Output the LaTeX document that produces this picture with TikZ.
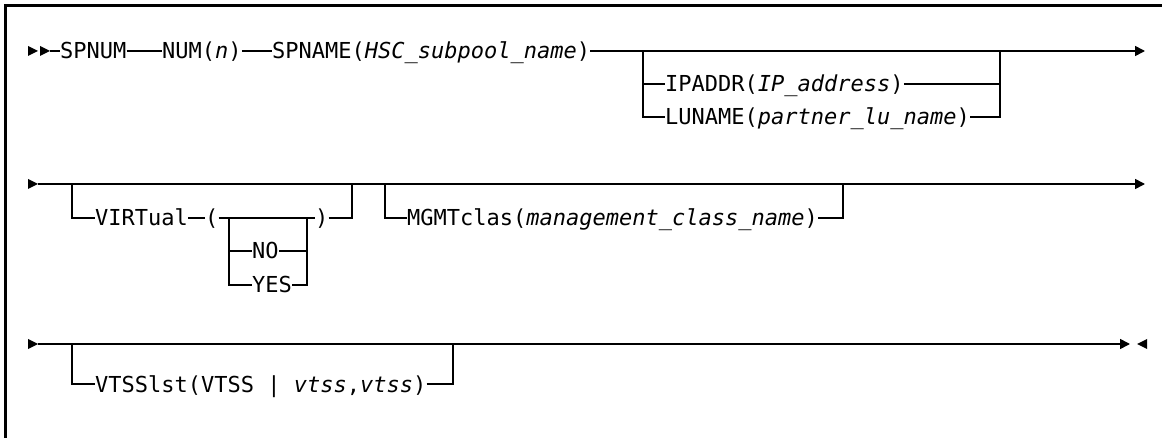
\documentclass[tikz,border=0pt]{standalone}
\usepackage{fontspec}
\newfontfamily\diagmono{DejaVu Sans Mono}[ItalicFont=* Oblique]
\usetikzlibrary{arrows.meta}
\begin{document}
\begin{tikzpicture}[x=1pt,y=-1pt,
  txt/.style={font=\diagmono\fontsize{22}{24}\selectfont, inner sep=0pt, anchor=west, text height=16pt, text depth=0pt},
  ln/.style={line width=1.6pt},
  tip/.style={-{Triangle[length=10pt,width=10pt]}},
  rtri/.pic={\fill (-10,-5) -- (0,0) -- (-10,5) -- cycle;},
  ltri/.pic={\fill (10,-5) -- (0,0) -- (10,5) -- cycle;}]
\useasboundingbox (0,0) rectangle (1162,438);
\draw[line width=2.7pt] (1162,5.3) -- (5.3,5.3) -- (5.3,438);

% ---------- row 1 ----------
\pic at (38,51) {rtri};
\pic at (50,51) {rtri};
\coordinate (r1s) at (50,51);
\coordinate (r1e) at (1145,51);
\node[txt] (spnum) at (60,51) {SPNUM};
\node[txt] (num) at (162,51) {NUM(\textit{n})};
\node[txt] (spname) at (272,51) {SPNAME(\textit{HSC\_subpool\_name})};
\node[txt] (ipaddr) at (665,84) {IPADDR(\textit{IP\_address})};
\node[txt] (luname) at (665,117) {LUNAME(\textit{partner\_lu\_name})};
\coordinate (b1l) at (643,51);
\coordinate (b1r) at (1000,51);
\draw[ln] (r1s) -- (spnum.west);
\draw[ln] (spnum.east) -- (num.west);
\draw[ln] (num.east) -- (spname.west);
\draw[ln,tip] (spname.east) -- (r1e);
\draw[ln] (b1l) |- (luname.west);
\draw[ln] (ipaddr.west -| b1l) -- (ipaddr.west);
\draw[ln] (luname.east) -| (b1r);
\draw[ln] (ipaddr.east) -- (ipaddr.east -| b1r);

% ---------- row 2 ----------
\pic at (38,184) {rtri};
\coordinate (r2s) at (38,184);
\coordinate (r2e) at (1145,184);
\draw[ln,tip] (r2s) -- (r2e);
\coordinate (v1) at (72,184);
\coordinate (v2) at (352,184);
\node[txt] (virt) at (95,218) {VIRTual};
\node[txt] (lp) at (205,218) {(};
\node[txt] (rp) at (315,218) {)};
\draw[ln] (v1) |- (virt.west);
\draw[ln] (virt.east) -- (lp.west);
\draw[ln] (lp.east) -- (rp.west);
\draw[ln] (rp.east) -| (v2);
\coordinate (i1) at (229,218);
\coordinate (i2) at (307,218);
\node[txt] (no) at (252,251) {NO};
\node[txt] (yes) at (252,285) {YES};
\draw[ln] (i1) |- (yes.west);
\draw[ln] (no.west -| i1) -- (no.west);
\draw[ln] (yes.east) -| (i2);
\draw[ln] (no.east) -- (no.east -| i2);
\coordinate (m1) at (385,184);
\coordinate (m2) at (843,184);
\node[txt] (mgmt) at (407,218) {MGMTclas(\textit{management\_class\_name})};
\draw[ln] (m1) |- (mgmt.west);
\draw[ln] (mgmt.east) -| (m2);

% ---------- row 3 ----------
\pic at (38,344) {rtri};
\coordinate (r3s) at (38,344);
\coordinate (r3e) at (1130,344);
\draw[ln,tip] (r3s) -- (r3e);
\pic at (1137,344) {ltri};
\coordinate (s1) at (72,344);
\coordinate (s2) at (453,344);
\node[txt] (vtss) at (95,384) {VTSSlst(VTSS | \textit{vtss},\textit{vtss})};
\draw[ln] (s1) |- (vtss.west);
\draw[ln] (vtss.east) -| (s2);
\end{tikzpicture}
\end{document}
